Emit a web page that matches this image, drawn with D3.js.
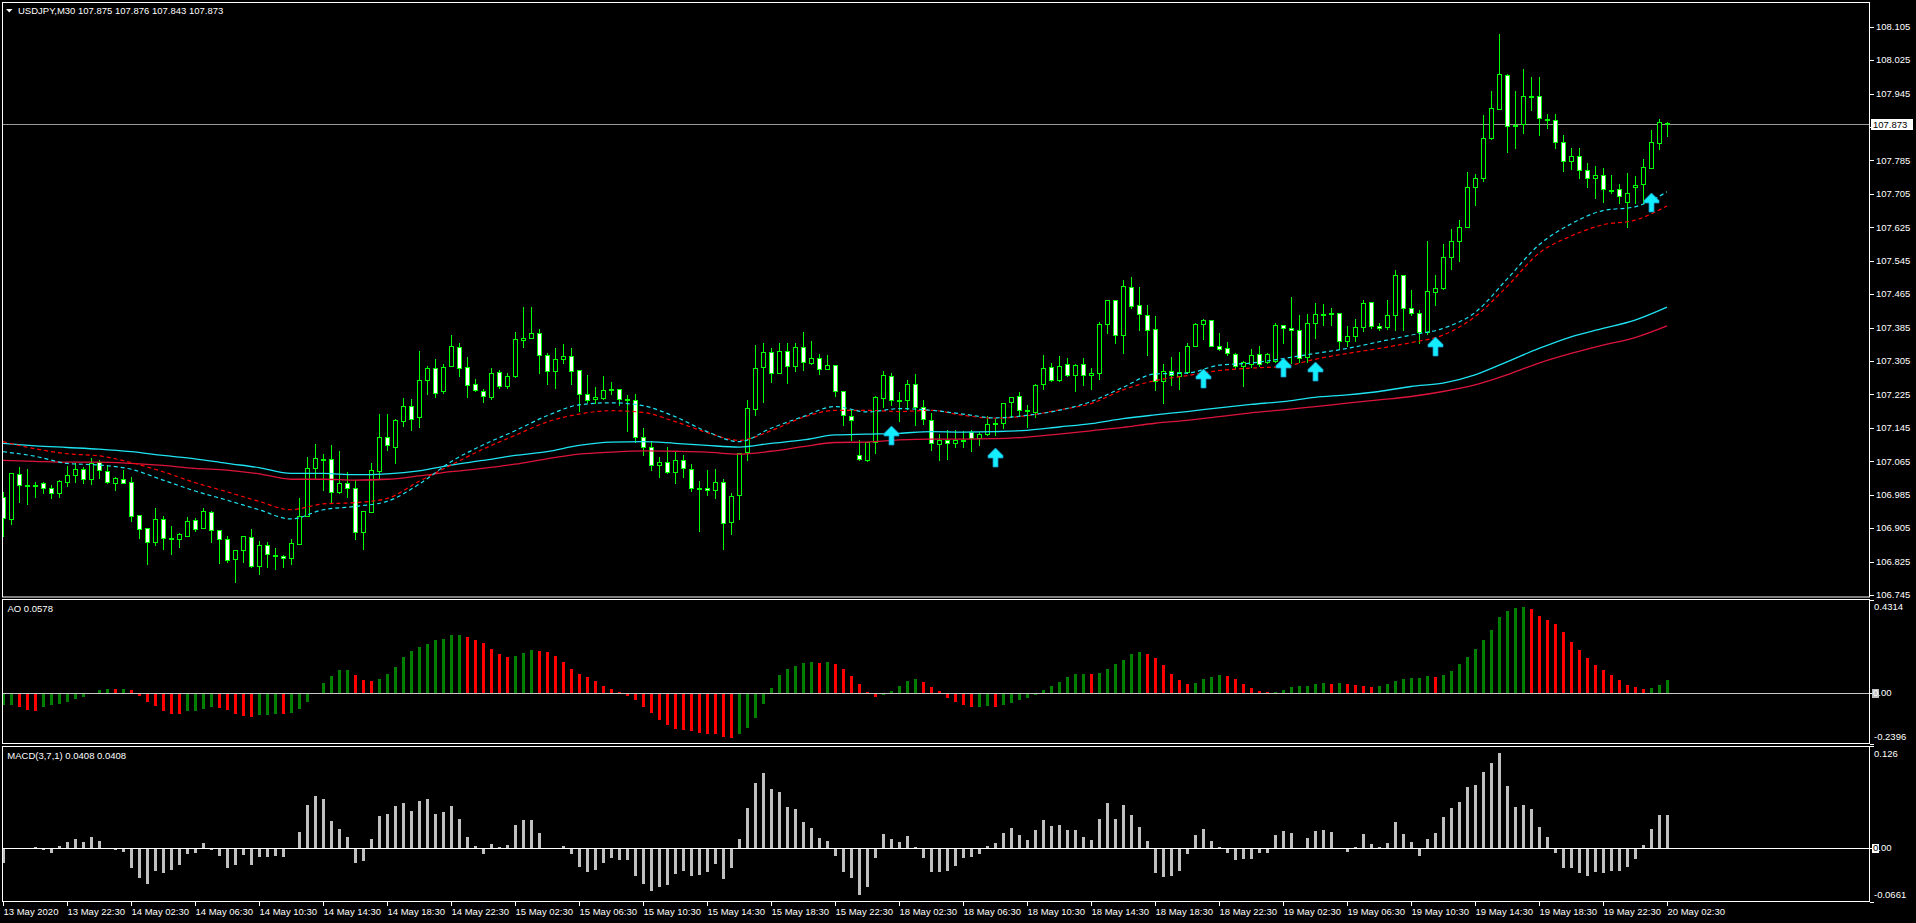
<!DOCTYPE html>
<html>
<head>
<meta charset="utf-8">
<script src="https://cdn.jsdelivr.net/npm/d3@7"></script>
<style>
body{margin:0;background:#000;overflow:hidden}
svg{display:block}
text{font-family:Tahoma,"Liberation Sans",Arial,sans-serif;font-size:9.5px;fill:#fff}
</style>
</head>
<body>
<svg id="chart" width="1916" height="923"></svg>
<script>
// USDJPY M30 bars, 13 May 18:30 -> 20 May 02:30
var openP = [106.980,106.926,107.034,107.008,107.007,107.012,107.000,106.988,107.016,107.031,107.046,107.023,107.063,107.041,107.014,107.022,107.015,106.936,106.905,106.873,
106.926,106.882,106.880,106.887,106.924,106.906,106.943,106.900,106.880,106.830,106.852,106.883,106.814,106.864,106.840,106.838,106.833,106.866,106.933,107.048,
107.071,107.070,106.991,107.013,107.000,106.895,106.943,107.041,107.123,107.100,107.162,107.197,107.170,107.259,107.288,107.232,107.292,107.338,107.290,107.249,
107.233,107.220,107.278,107.244,107.268,107.355,107.359,107.371,107.319,107.280,107.309,107.316,107.283,107.225,107.213,107.216,107.235,107.237,107.212,107.211,
107.122,107.098,107.055,107.063,107.039,107.067,107.046,107.000,107.000,106.996,107.015,106.919,106.984,107.087,107.190,107.290,107.326,107.276,107.328,107.292,
107.338,107.300,107.312,107.285,107.295,107.233,107.173,107.081,107.069,107.112,107.216,107.269,107.212,107.211,107.250,107.195,107.163,107.106,107.117,107.108,
107.114,107.135,107.120,107.130,107.156,107.156,107.207,107.221,107.187,107.183,107.250,107.290,107.259,107.297,107.271,107.297,107.271,107.276,107.393,107.451,
107.367,107.482,107.439,107.415,107.381,107.257,107.280,107.269,107.278,107.341,107.393,107.403,107.341,107.336,107.321,107.294,107.299,107.321,107.303,107.306,
107.390,107.383,107.378,107.315,107.395,107.416,107.419,107.419,107.352,107.364,107.386,107.445,107.388,107.386,107.414,107.510,107.431,107.419,107.374,107.469,
107.479,107.553,107.591,107.625,107.721,107.742,107.838,107.907,107.989,107.867,107.871,107.938,107.940,107.883,107.881,107.828,107.783,107.795,107.761,107.742,
107.751,107.715,107.716,107.685,107.721,107.728,107.766,107.826,107.875];
var highP = [106.991,107.038,107.051,107.047,107.016,107.016,107.008,107.020,107.054,107.060,107.052,107.073,107.068,107.055,107.028,107.044,107.027,106.937,106.906,106.953,
106.934,106.910,106.893,106.932,106.929,106.953,106.945,106.900,106.885,106.852,106.885,106.903,106.874,106.871,106.858,106.841,106.879,106.977,107.075,107.106,
107.083,107.104,107.090,107.040,107.020,106.945,107.061,107.178,107.178,107.166,107.217,107.214,107.329,107.292,107.309,107.298,107.367,107.348,107.315,107.261,
107.239,107.288,107.283,107.276,107.375,107.434,107.434,107.381,107.324,107.335,107.346,107.335,107.284,107.272,107.242,107.268,107.254,107.237,107.223,107.225,
107.144,107.113,107.075,107.098,107.087,107.079,107.058,107.017,107.043,107.046,107.022,106.989,107.084,107.211,107.343,107.348,107.335,107.348,107.347,107.348,
107.374,107.353,107.321,107.319,107.296,107.234,107.187,107.116,107.112,107.222,107.281,107.276,107.230,107.259,107.273,107.211,107.180,107.130,107.140,107.140,
107.137,107.140,107.135,107.173,107.166,107.205,107.219,107.230,107.199,107.250,107.319,107.300,107.317,107.312,107.297,107.312,107.288,107.398,107.451,107.451,
107.498,107.506,107.482,107.439,107.412,107.297,107.314,107.326,107.348,107.396,107.405,107.403,107.372,107.350,107.323,107.306,107.333,107.340,107.323,107.395,
107.392,107.458,107.414,107.417,107.443,107.441,107.431,107.419,107.388,107.405,107.450,107.446,107.395,107.450,107.522,107.510,107.474,107.426,107.591,107.510,
107.584,107.620,107.642,107.757,107.752,107.893,107.950,108.088,107.991,107.950,108.003,107.984,107.984,107.895,107.895,107.845,107.814,107.814,107.778,107.771,
107.766,107.749,107.728,107.754,107.747,107.788,107.857,107.883,107.876];
var lowP = [106.885,106.915,106.968,106.963,106.980,106.990,106.978,106.980,107.006,107.016,107.014,107.011,107.026,107.014,106.996,107.012,106.921,106.882,106.820,106.865,
106.855,106.843,106.861,106.885,106.897,106.906,106.873,106.822,106.825,106.777,106.825,106.813,106.796,106.811,106.808,106.813,106.820,106.866,106.933,107.026,
106.996,106.965,106.988,106.980,106.880,106.856,106.943,107.023,107.091,107.062,107.150,107.141,107.146,107.227,107.220,107.228,107.292,107.268,107.220,107.232,
107.208,107.215,107.241,107.241,107.266,107.338,107.359,107.277,107.249,107.241,107.300,107.249,107.186,107.206,107.204,107.215,107.225,107.199,107.138,107.110,
107.079,107.043,107.027,107.038,107.014,107.028,106.993,106.899,106.984,106.976,106.856,106.892,106.926,107.067,107.175,107.206,107.254,107.276,107.252,107.280,
107.283,107.297,107.273,107.285,107.222,107.153,107.115,107.069,107.066,107.086,107.195,107.199,107.161,107.190,107.151,107.154,107.092,107.067,107.071,107.098,
107.100,107.089,107.105,107.128,107.128,107.144,107.171,107.173,107.147,107.171,107.238,107.257,107.257,107.269,107.233,107.247,107.238,107.262,107.372,107.348,
107.324,107.431,107.379,107.319,107.235,107.204,107.247,107.238,107.276,107.340,107.357,107.340,107.332,107.319,107.289,107.246,107.291,107.294,107.301,107.303,
107.347,107.301,107.303,107.303,107.359,107.390,107.390,107.335,107.340,107.352,107.376,107.383,107.378,107.381,107.378,107.378,107.414,107.347,107.369,107.438,
107.478,107.524,107.544,107.625,107.678,107.735,107.837,107.907,107.804,107.814,107.850,107.905,107.845,107.862,107.814,107.759,107.764,107.742,107.721,107.694,
107.685,107.706,107.682,107.625,107.682,107.682,107.766,107.812,107.843];
var closeP = [106.929,107.036,107.008,107.007,107.009,107.000,106.988,107.017,107.031,107.046,107.022,107.062,107.043,107.015,107.024,107.014,106.933,106.904,106.873,106.926,
106.881,106.880,106.890,106.921,106.904,106.945,106.900,106.880,106.828,106.852,106.885,106.814,106.864,106.842,106.838,106.833,106.869,106.935,107.048,107.072,
107.070,106.991,107.013,107.000,106.895,106.945,107.043,107.123,107.103,107.163,107.197,107.167,107.259,107.288,107.228,107.290,107.340,107.288,107.247,107.235,
107.221,107.276,107.244,107.268,107.357,107.359,107.371,107.319,107.280,107.309,107.316,107.280,107.225,107.211,107.218,107.235,107.237,107.213,107.213,107.122,
107.098,107.055,107.063,107.039,107.067,107.048,107.000,106.999,106.996,107.015,106.917,106.981,107.084,107.192,107.288,107.326,107.276,107.328,107.292,107.338,
107.302,107.312,107.285,107.295,107.233,107.175,107.163,107.070,107.112,107.219,107.271,107.211,107.210,107.250,107.195,107.166,107.108,107.117,107.108,107.117,
107.116,107.120,107.130,107.154,107.155,107.204,107.219,107.187,107.186,107.247,107.288,107.259,107.293,107.271,107.295,107.271,107.276,107.393,107.451,107.367,
107.484,107.436,107.417,107.379,107.257,107.281,107.272,107.278,107.341,107.393,107.403,107.341,107.333,107.324,107.294,107.303,107.319,107.299,107.321,107.390,
107.383,107.378,107.313,107.395,107.417,107.417,107.417,107.352,107.364,107.386,107.443,107.388,107.383,107.414,107.510,107.431,107.419,107.374,107.472,107.479,
107.553,107.591,107.625,107.721,107.742,107.838,107.910,107.991,107.867,107.869,107.938,107.940,107.886,107.882,107.828,107.783,107.795,107.761,107.742,107.750,
107.716,107.714,107.699,107.706,107.725,107.769,107.828,107.876,107.873];

// Awesome Oscillator
var aoValues = [-0.058,-0.057,-0.068,-0.081,-0.087,-0.067,-0.059,-0.053,-0.043,-0.030,-0.020,-0.006,0.011,0.016,0.015,0.016,0.011,-0.016,-0.043,-0.062,
-0.087,-0.099,-0.100,-0.087,-0.086,-0.076,-0.068,-0.071,-0.081,-0.099,-0.109,-0.113,-0.106,-0.104,-0.099,-0.100,-0.095,-0.076,-0.043,-0.002,
0.043,0.079,0.104,0.105,0.081,0.057,0.053,0.062,0.085,0.117,0.165,0.193,0.211,0.225,0.244,0.248,0.267,0.268,0.258,0.244,
0.230,0.202,0.179,0.165,0.169,0.183,0.197,0.196,0.188,0.169,0.141,0.109,0.085,0.071,0.053,0.030,0.016,0.002,-0.017,-0.036,
-0.068,-0.096,-0.129,-0.152,-0.171,-0.175,-0.180,-0.189,-0.194,-0.195,-0.208,-0.213,-0.194,-0.166,-0.120,-0.054,0.020,0.081,0.109,0.123,
0.137,0.141,0.140,0.141,0.132,0.109,0.076,0.039,0.001,-0.022,-0.012,0.006,0.030,0.053,0.062,0.048,0.025,0.006,-0.026,-0.045,
-0.059,-0.068,-0.067,-0.064,-0.065,-0.059,-0.050,-0.036,-0.026,-0.012,0.011,0.030,0.048,0.071,0.085,0.086,0.085,0.090,0.109,0.132,
0.151,0.179,0.188,0.179,0.160,0.127,0.085,0.057,0.039,0.043,0.062,0.071,0.081,0.076,0.062,0.039,0.020,0.006,0.001,0.002,
0.011,0.025,0.030,0.031,0.039,0.043,0.039,0.043,0.039,0.034,0.030,0.025,0.030,0.039,0.053,0.062,0.067,0.068,0.076,0.071,
0.081,0.099,0.132,0.165,0.202,0.244,0.290,0.351,0.379,0.393,0.398,0.388,0.356,0.337,0.318,0.281,0.235,0.197,0.160,0.127,
0.104,0.081,0.057,0.034,0.025,0.016,0.020,0.034,0.058];

// MACD(3,7,1)
var macdValues = [-0.0185,0,0,0,0.0012,-0.0020,-0.0053,0.0025,0.0074,0.0111,0.0074,0.0135,0.0094,0.0004,-0.0020,-0.0041,-0.0242,-0.0365,-0.0439,-0.0279,
-0.0300,-0.0267,-0.0205,-0.0074,-0.0053,0.0062,-0.0020,-0.0094,-0.0238,-0.0205,-0.0082,-0.0205,-0.0107,-0.0107,-0.0099,-0.0107,0.0004,0.0205,0.0538,0.0649,
0.0612,0.0333,0.0234,0.0135,-0.0181,-0.0156,0.0119,0.0402,0.0419,0.0515,0.0562,0.0456,0.0579,0.0612,0.0419,0.0443,0.0517,0.0357,0.0144,0.0025,
-0.0066,0.0049,0.0012,0.0041,0.0283,0.0345,0.0353,0.0185,0.0002,0.0002,0.0025,-0.0074,-0.0230,-0.0291,-0.0267,-0.0181,-0.0123,-0.0144,-0.0144,-0.0341,
-0.0439,-0.0525,-0.0476,-0.0452,-0.0316,-0.0279,-0.0341,-0.0328,-0.0291,-0.0193,-0.0378,-0.0242,0.0111,0.0493,0.0800,0.0924,0.0727,0.0690,0.0505,0.0480,
0.0320,0.0246,0.0123,0.0086,-0.0090,-0.0291,-0.0365,-0.0575,-0.0476,-0.0119,0.0172,0.0111,0.0074,0.0148,0.0012,-0.0119,-0.0291,-0.0291,-0.0279,-0.0218,
-0.0119,-0.0107,-0.0070,0.0025,0.0062,0.0185,0.0246,0.0160,0.0099,0.0222,0.0345,0.0271,0.0287,0.0222,0.0222,0.0135,0.0099,0.0357,0.0554,0.0357,
0.0530,0.0406,0.0259,0.0086,-0.0304,-0.0353,-0.0341,-0.0279,-0.0070,0.0160,0.0234,0.0086,0.0012,-0.0062,-0.0140,-0.0131,-0.0131,-0.0053,-0.0057,0.0160,
0.0209,0.0185,0.0004,0.0123,0.0209,0.0222,0.0197,0.0004,-0.0041,0.0012,0.0172,0.0057,0.0012,0.0062,0.0320,0.0172,0.0074,-0.0094,0.0111,0.0185,
0.0382,0.0493,0.0567,0.0751,0.0784,0.0936,0.1047,0.1170,0.0764,0.0513,0.0530,0.0480,0.0259,0.0135,-0.0062,-0.0242,-0.0242,-0.0300,-0.0341,-0.0291,
-0.0300,-0.0283,-0.0283,-0.0226,-0.0135,0.0041,0.0234,0.0408,0.0408];

// moving averages, read every 4th bar
var maBars = d3.range(0, 209, 4);
var maSlowCyan = [107.108,107.102,107.098,107.094,107.088,107.079,107.071,107.060,107.050,107.036,107.036,107.033,107.035,
107.042,107.056,107.067,107.079,107.088,107.103,107.111,107.112,107.108,107.103,107.099,107.108,107.116,
107.128,107.130,107.132,107.136,107.135,107.136,107.139,107.147,107.155,107.167,107.176,107.184,107.193,
107.201,107.208,107.218,107.224,107.232,107.244,107.252,107.272,107.303,107.335,107.363,107.383,107.403,107.434];
var maSlowRed = [107.067,107.065,107.063,107.063,107.060,107.055,107.048,107.044,107.035,107.022,107.022,107.020,107.022,
107.030,107.040,107.048,107.058,107.071,107.082,107.087,107.090,107.089,107.087,107.082,107.089,107.100,
107.110,107.111,107.116,107.118,107.118,107.119,107.123,107.130,107.138,107.146,107.156,107.163,107.172,
107.181,107.188,107.196,107.204,107.212,107.220,107.232,107.248,107.272,107.300,107.323,107.343,107.361,107.389];
var maFastCyan = [107.088,107.077,107.060,107.056,107.046,107.020,106.994,106.972,106.949,106.927,106.949,106.957,106.969,
107.010,107.064,107.104,107.138,107.174,107.200,107.205,107.198,107.172,107.136,107.112,107.144,107.172,
107.196,107.183,107.191,107.187,107.178,107.169,107.175,107.187,107.208,107.242,107.274,107.276,107.295,
107.300,107.311,107.323,107.335,107.351,107.367,107.383,107.421,107.501,107.583,107.633,107.665,107.674,107.710];
var maFastRed = [107.112,107.095,107.083,107.078,107.062,107.040,107.014,106.992,106.969,106.949,106.963,106.966,106.976,
107.017,107.056,107.094,107.127,107.159,107.178,107.186,107.182,107.160,107.134,107.115,107.138,107.170,
107.187,107.187,107.184,107.187,107.175,107.168,107.174,107.188,107.203,107.236,107.258,107.270,107.282,
107.288,107.292,107.309,107.323,107.335,107.349,107.367,107.411,107.483,107.563,107.604,107.631,107.642,107.676];

var arrowBars = [111, 124, 150, 160, 164, 179, 206];
var arrowPrices = [107.150, 107.096, 107.285, 107.311, 107.302, 107.363, 107.706];

var priceTicks = [106.745,106.825,106.905,106.985,107.065,107.145,107.225,107.305,107.385,107.465,107.545,107.625,107.705,107.785,107.865,107.945,108.025,108.105];
var timeLabels = ["13 May 2020","13 May 22:30","14 May 02:30","14 May 06:30","14 May 10:30","14 May 14:30","14 May 18:30","14 May 22:30",
"15 May 02:30","15 May 06:30","15 May 10:30","15 May 14:30","15 May 18:30","15 May 22:30","18 May 02:30","18 May 06:30","18 May 10:30",
"18 May 14:30","18 May 18:30","18 May 22:30","19 May 02:30","19 May 06:30","19 May 10:30","19 May 14:30","19 May 18:30","19 May 22:30","20 May 02:30"];
var lastQuote = {o: 107.875, h: 107.876, l: 107.843, c: 107.873};
var aoLast = 0.0578, macdLast = 0.0408;

var svg = d3.select("#chart");
var left = 2, right = 1870;

var x = d3.scaleLinear().domain([0, 208]).range([3, 1667]);
var yMain = d3.scaleLinear().domain([106.745, 108.105]).range([595, 26.7]);
var yAO = d3.scaleLinear().domain([-0.2396, 0.4314]).range([744, 600]);
var yMACD = d3.scaleLinear().domain([-0.0661, 0.126]).range([902, 746]);
var px = function(i){ return Math.round(x(i)); };

svg.append("rect").attr("width", 1916).attr("height", 923).attr("fill", "#000");

svg.append("clipPath").attr("id", "mainClip").append("rect")
    .attr("x", left + 1).attr("y", 3).attr("width", right - left - 1).attr("height", 594);

var main = svg.append("g").attr("clip-path", "url(#mainClip)");

// current price line
var priceY = Math.round(yMain(lastQuote.c)) + 0.5;
main.append("line").attr("x1", left).attr("x2", right).attr("y1", priceY).attr("y2", priceY)
    .attr("stroke", "#9a9a9a").attr("stroke-width", 1);

var bars = openP.map(function(o, i){ return {i: i, o: o, h: highP[i], l: lowP[i], c: closeP[i]}; });

main.selectAll("line.wick").data(bars).enter().append("line")
    .attr("class", "wick")
    .attr("x1", function(d){ return px(d.i) + 0.5; })
    .attr("x2", function(d){ return px(d.i) + 0.5; })
    .attr("y1", function(d){ return Math.round(yMain(d.h)); })
    .attr("y2", function(d){ return Math.round(yMain(d.l)) + 1; })
    .attr("stroke", "#00ff00").attr("shape-rendering", "crispEdges");

main.selectAll("rect.body").data(bars).enter().append("rect")
    .attr("class", "body")
    .attr("x", function(d){ return px(d.i) - 1.5; })
    .attr("y", function(d){ return Math.round(yMain(Math.max(d.o, d.c))) + 0.5; })
    .attr("width", 4)
    .attr("height", function(d){
        return Math.max(1, Math.round(yMain(Math.min(d.o, d.c))) - Math.round(yMain(Math.max(d.o, d.c))));
    })
    .attr("fill", function(d){ return d.c < d.o ? "#ffffff" : "#000000"; })
    .attr("stroke", "#00ff00").attr("stroke-width", 1).attr("shape-rendering", "crispEdges");

// moving averages
function maLine(vals){
    return d3.line()
        .x(function(d, k){ return x(maBars[k]); })
        .y(function(d){ return yMain(d); })
        .curve(d3.curveMonotoneX)(vals);
}
main.append("path").attr("d", maLine(maSlowRed)).attr("fill", "none").attr("stroke", "#dc143c").attr("stroke-width", 1.3);
main.append("path").attr("d", maLine(maSlowCyan)).attr("fill", "none").attr("stroke", "#1ee3f2").attr("stroke-width", 1.3);
main.append("path").attr("d", maLine(maFastRed)).attr("fill", "none").attr("stroke", "#ff0000").attr("stroke-width", 1.2).attr("stroke-dasharray", "4,3");
main.append("path").attr("d", maLine(maFastCyan)).attr("fill", "none").attr("stroke", "#1ee3f2").attr("stroke-width", 1.2).attr("stroke-dasharray", "4,3");

// signal arrows
var arrowShape = "M0,0 L7.5,7.5 L7.5,10 L2.5,10 L2.5,19 L-2.5,19 L-2.5,10 L-7.5,10 L-7.5,7.5 Z";
main.selectAll("path.arrow").data(arrowBars).enter().append("path")
    .attr("class", "arrow")
    .attr("d", arrowShape)
    .attr("transform", function(d, k){ return "translate(" + (px(d) + 0.5) + "," + Math.round(yMain(arrowPrices[k])) + ")"; })
    .attr("fill", "#14eefc").attr("stroke", "#1b8fc4").attr("stroke-width", 0.8);

// AO histogram
var aoG = svg.append("g");
var aoZero = Math.round(yAO(0));
aoG.append("line").attr("x1", left).attr("x2", right).attr("y1", aoZero + 0.5).attr("y2", aoZero + 0.5)
    .attr("stroke", "#c8c8c8");
aoG.selectAll("rect").data(aoValues).enter().append("rect")
    .attr("x", function(d, i){ return px(i) - 1; })
    .attr("width", 3)
    .attr("y", function(d){ return d >= 0 ? Math.round(yAO(d)) : aoZero + 1; })
    .attr("height", function(d){ return Math.max(0, Math.abs(Math.round(yAO(d)) - aoZero) - (d >= 0 ? 0 : 1)); })
    .attr("fill", function(d, i){ return (i === 0 || d > aoValues[i - 1]) ? "#008000" : "#ff0000"; })
    .attr("shape-rendering", "crispEdges");

// MACD histogram
var mG = svg.append("g");
var mZero = Math.round(yMACD(0));
mG.selectAll("rect").data(macdValues).enter().append("rect")
    .attr("x", function(d, i){ return px(i) - 1; })
    .attr("width", 3)
    .attr("y", function(d){ return d >= 0 ? Math.round(yMACD(d)) : mZero + 1; })
    .attr("height", function(d){ return Math.max(0, Math.abs(Math.round(yMACD(d)) - mZero) - (d >= 0 ? 0 : 1)); })
    .attr("fill", "#c0c0c0").attr("shape-rendering", "crispEdges");
mG.append("line").attr("x1", left).attr("x2", right).attr("y1", mZero + 0.5).attr("y2", mZero + 0.5)
    .attr("stroke", "#ffffff");

// panel frames
[[2.5, 594.5], [599.5, 144], [746.5, 155]].forEach(function(p){
    svg.append("rect").attr("x", 2.5).attr("y", p[0]).attr("width", right - 2.5 - 0.5).attr("height", p[1])
        .attr("fill", "none").attr("stroke", "#ffffff").attr("stroke-width", 1);
});

// price axis
var axisG = svg.append("g");
priceTicks.forEach(function(v){
    var yy = Math.round(yMain(v)) + 0.5;
    axisG.append("line").attr("x1", right).attr("x2", right + 4).attr("y1", yy).attr("y2", yy).attr("stroke", "#fff");
    axisG.append("text").attr("x", 1876).attr("y", yMain(v)).attr("dy", "0.35em").text(v.toFixed(3));
});
axisG.append("rect").attr("x", 1871).attr("y", priceY - 5.5).attr("width", 42).attr("height", 11).attr("fill", "#fff");
axisG.append("text").attr("x", 1873).attr("y", priceY).attr("dy", "0.35em").style("fill", "#000").text(lastQuote.c.toFixed(3));

// indicator scales
function levelTick(yy){
    axisG.append("line").attr("x1", right).attr("x2", right + 4).attr("y1", Math.round(yy) + 0.5).attr("y2", Math.round(yy) + 0.5).attr("stroke", "#fff");
}
levelTick(yAO(0.4314)); levelTick(yAO(0)); levelTick(yAO(-0.2396));
levelTick(yMACD(0.126)); levelTick(yMACD(0)); levelTick(yMACD(-0.0661));
axisG.append("text").attr("x", 1874).attr("y", yAO(0.4314) + 7).attr("dy", "0.35em").text("0.4314");
axisG.append("text").attr("x", 1874).attr("y", yAO(-0.2396) - 7).attr("dy", "0.35em").text("-0.2396");
axisG.append("text").attr("x", 1874).attr("y", yMACD(0.126) + 7.5).attr("dy", "0.35em").text("0.126");
axisG.append("text").attr("x", 1874).attr("y", yMACD(-0.0661) - 7).attr("dy", "0.35em").text("-0.0661");
axisG.append("rect").attr("x", 1872).attr("y", aoZero - 4).attr("width", 7).attr("height", 9).attr("fill", "#c0c0c0");
var z1 = axisG.append("text").attr("x", 1873).attr("y", aoZero).attr("dy", "0.35em");
z1.append("tspan").text("0"); z1.append("tspan").text(".00");
axisG.append("rect").attr("x", 1872).attr("y", mZero - 4).attr("width", 7).attr("height", 9).attr("fill", "#fff");
var z2 = axisG.append("text").attr("x", 1873).attr("y", mZero).attr("dy", "0.35em");
z2.append("tspan").style("fill", "#000").text("0"); z2.append("tspan").text(".00");

// time axis
timeLabels.forEach(function(t, j){
    var tx = px(j * 8) + 0.5;
    axisG.append("line").attr("x1", tx).attr("x2", tx).attr("y1", 902).attr("y2", 906).attr("stroke", "#fff");
    axisG.append("text").attr("x", tx).attr("y", 912).attr("dy", "0.35em").text(t);
});

// titles
svg.append("path").attr("d", "M6,9 L12.5,9 L9.25,12.5 Z").attr("fill", "#fff");
svg.append("text").attr("x", 18).attr("y", 10.7).attr("dy", "0.35em")
    .text("USDJPY,M30  " + [lastQuote.o, lastQuote.h, lastQuote.l, lastQuote.c].map(function(v){ return v.toFixed(3); }).join(" "));
svg.append("text").attr("x", 7.5).attr("y", 608.7).attr("dy", "0.35em").text("AO " + aoLast.toFixed(4));
svg.append("text").attr("x", 7.3).attr("y", 755.7).attr("dy", "0.35em")
    .text("MACD(3,7,1) " + macdLast.toFixed(4) + " " + macdLast.toFixed(4));
</script>
</body>
</html>
